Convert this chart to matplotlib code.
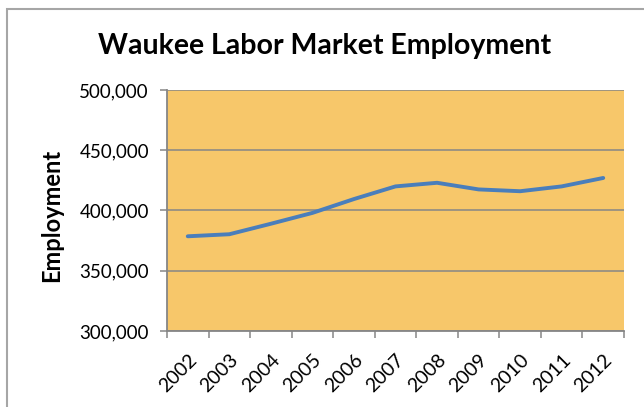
import matplotlib
matplotlib.use("Agg")
import matplotlib.pyplot as plt
import matplotlib.transforms as mtransforms
from matplotlib.patches import Rectangle
from matplotlib.ticker import FuncFormatter

# Waukee labor market employment, 2002-2012
years = ['2002', '2003', '2004', '2005', '2006', '2007', '2008', '2009', '2010', '2011', '2012']
employment = [378600, 380300, 389000, 398000, 409500, 420000, 423000, 417500, 416000, 420000, 427000]

plt.rcParams['font.family'] = ['Lato', 'DejaVu Sans']

fig = plt.figure(figsize=(6.44, 4.07), dpi=100)
ax = fig.add_axes([167/644, 1 - 331/407, 457/644, 241/407])

# chart border
fig.patches.append(Rectangle((6.5/644, -0.05), 1.1, 1.05 - 8.5/407, transform=fig.transFigure,
                             fill=False, edgecolor='#a6a6a6', linewidth=1.5))

ax.set_facecolor('#f7c76a')
x = list(range(len(years)))
ax.plot(x, employment, color='#4a7ebb', linewidth=2.8, solid_capstyle='round', zorder=3)

ax.set_xlim(-0.5, len(years) - 0.5)
ax.set_ylim(300000, 500000)
ax.set_yticks([300000, 350000, 400000, 450000, 500000])
ax.yaxis.set_major_formatter(FuncFormatter(lambda v, p: f'{int(v):,}'))
ax.grid(axis='y', color='#868686', linewidth=1.1)
ax.set_axisbelow(True)

ax.set_xticks([i - 0.5 for i in range(len(years) + 1)])
ax.set_xticklabels([])
ax.set_xticks(x, minor=True)
ax.set_xticklabels(years, minor=True, rotation=45, ha='right', va='center',
                   rotation_mode='anchor', fontsize=14)
ax.tick_params(axis='x', which='minor', length=0, pad=0)
off = mtransforms.ScaledTranslation(6/100, -26/100, fig.dpi_scale_trans)
for lbl in ax.get_xticklabels(minor=True):
    lbl.set_transform(lbl.get_transform() + off)

ax.tick_params(axis='both', which='major', length=5, color='#868686', width=1.1)
ax.tick_params(axis='y', labelsize=13.5, pad=8)

for s in ['top', 'right']:
    ax.spines[s].set_visible(False)
for s in ['left', 'bottom']:
    ax.spines[s].set_color('#868686')
    ax.spines[s].set_linewidth(1.3)

ax.set_ylabel('Employment', fontsize=17, fontweight='bold')
ax.yaxis.set_label_coords((63 - 167) / 457, 0.48)
fig.text(325/644, 1 - 46/407, 'Waukee Labor Market Employment', ha='center', va='center',
         fontsize=20.5, fontweight='bold')

fig.savefig('out.png', dpi=100)
